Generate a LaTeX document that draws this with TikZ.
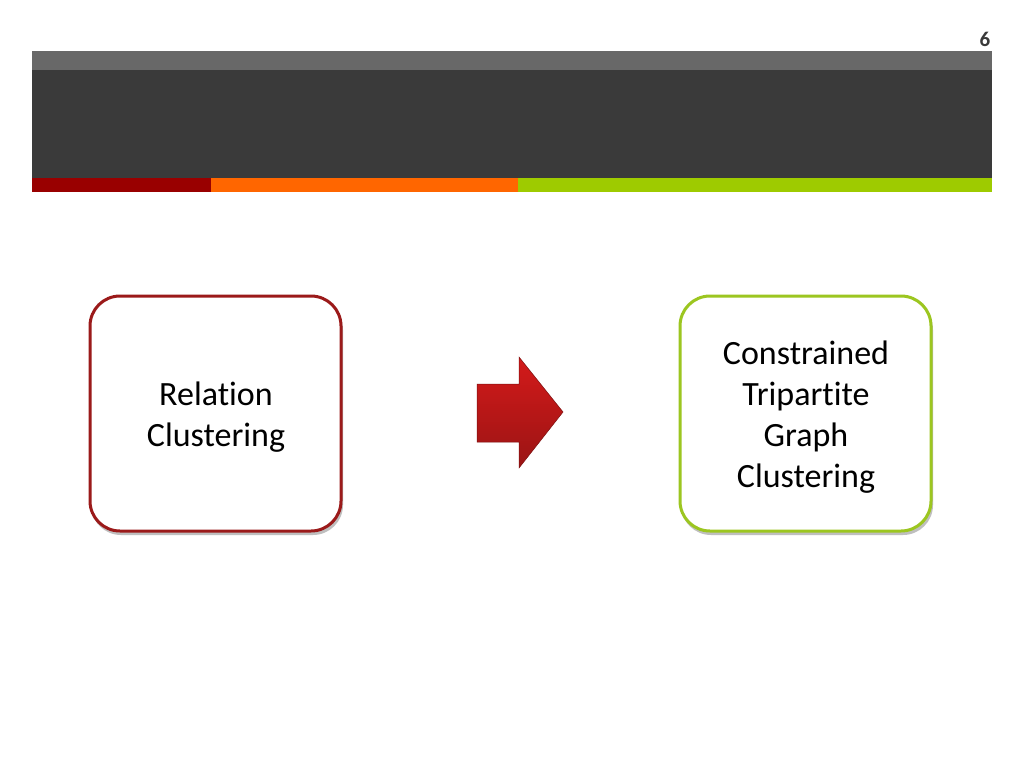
\documentclass[tikz,border=0pt]{standalone}
\usepackage{fontspec}
\setmainfont[Ligatures={NoCommon,NoContextual}]{Carlito}
\definecolor{bandlight}{HTML}{686868}
\definecolor{banddark}{HTML}{3A3A3A}
\definecolor{stripred}{HTML}{990000}
\definecolor{stripor}{HTML}{FF6600}
\definecolor{stripgr}{HTML}{9ECB00}
\definecolor{boxred}{HTML}{9B1A1A}
\definecolor{boxgreen}{HTML}{9CC620}
\definecolor{arrtop}{HTML}{D41A1A}
\definecolor{arrbot}{HTML}{9A1414}
\tikzset{
  stepbox/.style={rounded corners=30pt, line width=3pt, fill=white},
  boxtext/.style={align=center, font=\fontsize{34}{41}\selectfont, text=black},
}
\begin{document}
\begin{tikzpicture}[x=1pt,y=-1pt]
\useasboundingbox (0,0) rectangle (1024,768);
\fill[white] (0,0) rectangle (1024,768);
% header
\fill[bandlight] (32,51) rectangle (992,70);
\fill[banddark] (32,70) rectangle (992,178);
\fill[stripred] (32,178) rectangle (211,192);
\fill[stripor] (211,178) rectangle (518,192);
\fill[stripgr] (518,178) rectangle (992,192);
\node[font=\bfseries\fontsize{21}{24}\selectfont, text=banddark] (num) at (985,39) {6};
% shadows
\fill[black!25, rounded corners=30pt] (91,300) rectangle (343,535);
\fill[black!25, rounded corners=30pt] (681,300) rectangle (933,535);
% boxes
\draw[stepbox, draw=boxred] (90,296) rectangle (341,531);
\node[boxtext] (left) at (216,417) {Relation\\Clustering};
\draw[stepbox, draw=boxgreen] (680,296) rectangle (931,531);
\node[boxtext] (right) at (806,417) {Constrained\\Tripartite\\Graph\\Clustering};
% arrow
\shade[top color=arrtop, bottom color=arrbot, draw=arrbot!80!black, line width=0.5pt]
  (477,384) -- (519,384) -- (519,357) -- (563,412) -- (519,468) -- (519,442) -- (477,442) -- cycle;
\end{tikzpicture}
\end{document}
